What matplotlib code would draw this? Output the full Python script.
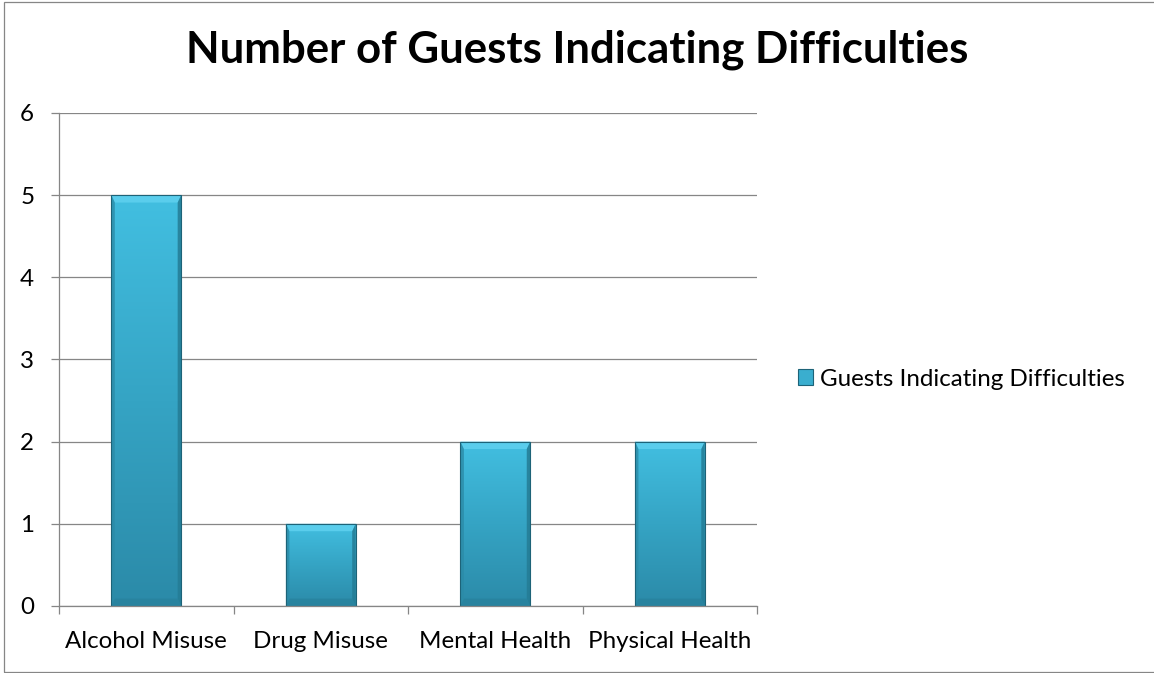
import numpy as np
import matplotlib
matplotlib.use("Agg")
import matplotlib.pyplot as plt
from matplotlib.patches import Rectangle, Polygon
from matplotlib.colors import LinearSegmentedColormap

categories = ["Alcohol Misuse", "Drug Misuse", "Mental Health", "Physical Health"]
guests = [5, 1, 2, 2]
series_name = "Guests Indicating Difficulties"
yticks = [0, 1, 2, 3, 4, 5, 6]

plt.rcParams["font.family"] = ["Lato", "DejaVu Sans"]
grey = "#868686"

fig = plt.figure(figsize=(11.54, 6.73), dpi=100)
ax = fig.add_axes([0.0511, 0.0996, 0.605, 0.7325])

# chart border
fig.add_artist(Rectangle((3.5 / 1154, 1.5 / 673), 1.2, 1 - 3 / 673,
                         transform=fig.transFigure, fill=False,
                         edgecolor=grey, lw=0.9))

x = np.arange(len(categories))
width = 0.4
bars = ax.bar(x, guests, width=width, color="#3AAECF", zorder=3)

grad = LinearSegmentedColormap.from_list("bar", ["#2B8AA8", "#35A4C4", "#42BFE1"])
dx = 0.02   # bevel size in x data units
dy = 0.09   # bevel size in y data units
for b in bars:
    x0, y0 = b.get_x(), b.get_y()
    w, h = b.get_width(), b.get_height()
    # soft shadow under the bar
    for i, a in enumerate([0.16, 0.09, 0.04]):
        ax.add_patch(Rectangle((x0 + 0.004, y0 - 0.02 - i * 0.02), w, h,
                               color="#555555", alpha=a, lw=0, zorder=2))
    g = np.linspace(0, 1, 256).reshape(-1, 1)
    im = ax.imshow(g, cmap=grad, extent=[x0, x0 + w, y0, y0 + h],
                   origin="lower", aspect="auto", zorder=3.1)
    im.set_clip_path(b)
    # bevel faces
    top = Polygon([(x0, y0 + h), (x0 + w, y0 + h), (x0 + w - dx, y0 + h - dy),
                   (x0 + dx, y0 + h - dy)], color="#5ACDEC", lw=0, zorder=3.2)
    left = Polygon([(x0, y0), (x0, y0 + h), (x0 + dx, y0 + h - dy),
                    (x0 + dx, y0 + dy)], color="#2B8BA7", alpha=0.8, lw=0, zorder=3.2)
    right = Polygon([(x0 + w, y0), (x0 + w, y0 + h), (x0 + w - dx, y0 + h - dy),
                     (x0 + w - dx, y0 + dy)], color="#247C95", alpha=0.85, lw=0, zorder=3.2)
    bottom = Polygon([(x0, y0), (x0 + w, y0), (x0 + w - dx, y0 + dy),
                      (x0 + dx, y0 + dy)], color="#267F99", alpha=0.6, lw=0, zorder=3.2)
    for p in (top, left, right, bottom):
        ax.add_patch(p)
    ax.add_patch(Rectangle((x0, y0), w, h, fill=False, edgecolor="#1D6378",
                           lw=0.8, zorder=3.3))

ax.set_xlim(-0.5, len(categories) - 0.5)
ax.set_ylim(0, 6)
ax.set_yticks(yticks)
ax.set_xticks(x)
ax.set_xticklabels(categories)
ax.set_xticks(np.arange(len(categories) + 1) - 0.5, minor=True)

ax.grid(axis="y", color=grey, lw=0.9, zorder=1)
for s in ("top", "right"):
    ax.spines[s].set_visible(False)
for s in ("left", "bottom"):
    ax.spines[s].set_color(grey)
    ax.spines[s].set_linewidth(0.9)
    ax.spines[s].set_zorder(4)

ax.tick_params(axis="y", length=5.8, width=0.9, color=grey, pad=12,
               labelsize=17.4, labelcolor="black")
ax.tick_params(axis="x", which="major", length=0, pad=18, labelsize=17.4)
ax.tick_params(axis="x", which="minor", length=6, width=0.9, color=grey)

fig.text(0.5, 0.926, "Number of Guests Indicating Difficulties",
         ha="center", va="center", fontsize=31.5, fontweight="bold")

handle = Rectangle((0, 0), 1, 1, facecolor="#3AAECF", edgecolor="#1D6378", lw=0.8)
fig.legend([handle], [series_name], loc="center left",
           bbox_to_anchor=(798 / 1154, 1 - 379 / 673), frameon=False,
           fontsize=17.4, handlelength=0.6, handleheight=0.6,
           handletextpad=0.3, borderpad=0, borderaxespad=0)

fig.savefig("out.png", dpi=100)
